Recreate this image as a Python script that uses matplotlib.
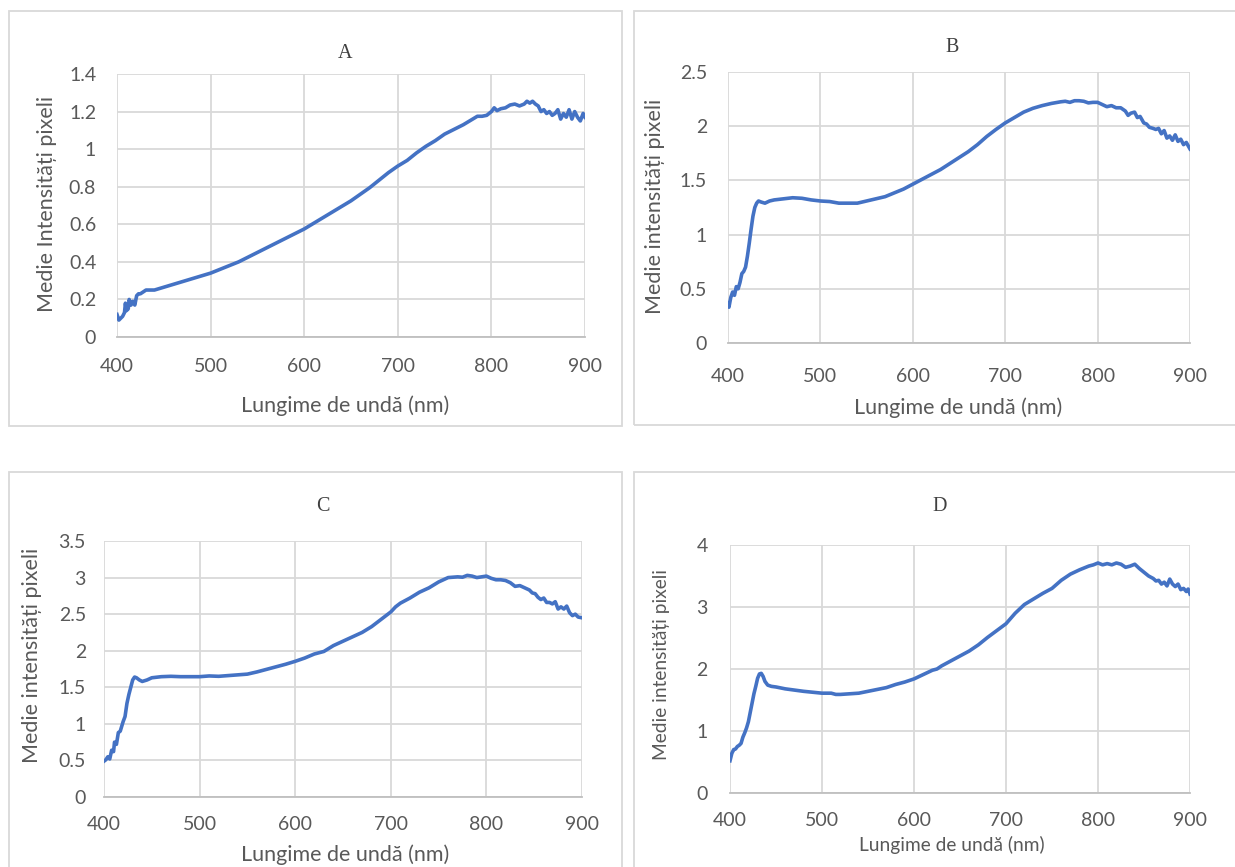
import matplotlib
matplotlib.use("Agg")
import matplotlib.pyplot as plt
from matplotlib.patches import Rectangle

plt.rcParams['font.family'] = ['Lato', 'DejaVu Sans']

# ---- date ----
wl_A = [400, 402, 404, 406, 408, 409, 410, 412, 413, 415, 417, 419, 421, 423, 425, 428, 431, 435, 440,
        450, 460, 470, 480, 490, 500, 510, 520, 530, 540, 550, 560, 570, 580, 590, 600, 610, 620, 630,
        640, 650, 660, 670, 680, 690, 700, 710, 720, 730, 740, 750, 760, 770, 780, 785, 790, 795, 800,
        803, 806, 810, 815, 820, 825, 830, 835, 838, 841, 844, 847, 850, 853, 856, 859, 862, 865, 868,
        871, 874, 877, 880, 883, 886, 889, 892, 895, 898, 900]
val_A = [0.12, 0.09, 0.10, 0.11, 0.13, 0.18, 0.14, 0.15, 0.20, 0.17, 0.19, 0.17, 0.22, 0.23, 0.23, 0.24,
         0.25, 0.25, 0.25, 0.265, 0.28, 0.295, 0.31, 0.325, 0.34, 0.36, 0.38, 0.40, 0.425, 0.45, 0.475,
         0.50, 0.525, 0.55, 0.575, 0.605, 0.635, 0.665, 0.695, 0.725, 0.76, 0.795, 0.835, 0.875, 0.91,
         0.94, 0.98, 1.015, 1.045, 1.08, 1.105, 1.13, 1.16, 1.175, 1.175, 1.18, 1.20, 1.22, 1.205, 1.215,
         1.22, 1.235, 1.24, 1.23, 1.24, 1.255, 1.245, 1.255, 1.24, 1.23, 1.20, 1.21, 1.19, 1.20, 1.18,
         1.19, 1.21, 1.16, 1.19, 1.17, 1.21, 1.16, 1.20, 1.17, 1.15, 1.19, 1.17]

wl_B = [400, 401, 403, 405, 407, 409, 411, 413, 415, 417, 419, 421, 423, 425, 427, 429, 431, 433, 436,
        440, 445, 450, 460, 470, 480, 490, 500, 510, 520, 530, 540, 550, 560, 570, 580, 590, 600, 610,
        620, 630, 640, 650, 660, 670, 680, 690, 700, 710, 720, 730, 740, 750, 760, 765, 770, 775, 780,
        785, 790, 795, 800, 805, 810, 815, 820, 825, 830, 833, 836, 840, 843, 846, 850, 853, 856, 860,
        863, 866, 869, 872, 875, 878, 881, 884, 887, 890, 893, 896, 898, 900]
val_B = [0.37, 0.33, 0.42, 0.47, 0.44, 0.52, 0.50, 0.56, 0.64, 0.66, 0.70, 0.80, 0.92, 1.05, 1.17, 1.25,
         1.29, 1.31, 1.30, 1.29, 1.31, 1.32, 1.33, 1.34, 1.335, 1.32, 1.31, 1.305, 1.29, 1.29, 1.29, 1.31,
         1.33, 1.35, 1.385, 1.42, 1.465, 1.51, 1.555, 1.60, 1.655, 1.71, 1.765, 1.83, 1.905, 1.97, 2.03,
         2.08, 2.13, 2.165, 2.19, 2.21, 2.225, 2.23, 2.22, 2.235, 2.235, 2.23, 2.215, 2.22, 2.22, 2.20,
         2.18, 2.19, 2.17, 2.17, 2.14, 2.10, 2.12, 2.13, 2.08, 2.09, 2.03, 2.02, 1.99, 1.98, 1.97, 1.98,
         1.93, 1.96, 1.89, 1.91, 1.87, 1.92, 1.86, 1.88, 1.83, 1.85, 1.82, 1.79]

wl_C = [400, 402, 404, 406, 408, 410, 411, 413, 415, 417, 420, 422, 424, 426, 428, 430, 432, 434, 437,
        440, 445, 450, 460, 470, 480, 490, 500, 510, 520, 530, 540, 550, 560, 570, 580, 590, 600, 610,
        620, 630, 640, 650, 660, 670, 680, 690, 700, 705, 710, 720, 730, 740, 750, 760, 770, 775, 780,
        785, 790, 795, 800, 805, 810, 815, 820, 825, 830, 835, 840, 845, 848, 851, 854, 857, 860, 863,
        866, 869, 872, 875, 878, 881, 884, 887, 890, 893, 896, 900]
val_C = [0.49, 0.51, 0.55, 0.52, 0.64, 0.62, 0.75, 0.72, 0.88, 0.90, 1.03, 1.10, 1.28, 1.40, 1.50, 1.60,
         1.64, 1.63, 1.60, 1.58, 1.60, 1.63, 1.645, 1.65, 1.645, 1.645, 1.645, 1.655, 1.65, 1.66, 1.67,
         1.68, 1.71, 1.745, 1.78, 1.815, 1.855, 1.90, 1.955, 1.99, 2.07, 2.13, 2.19, 2.25, 2.33, 2.43,
         2.53, 2.60, 2.65, 2.72, 2.80, 2.86, 2.94, 3.00, 3.01, 3.005, 3.03, 3.02, 3.00, 3.01, 3.02, 2.99,
         2.97, 2.97, 2.96, 2.93, 2.88, 2.89, 2.86, 2.83, 2.79, 2.78, 2.73, 2.70, 2.72, 2.66, 2.66, 2.64,
         2.67, 2.57, 2.60, 2.57, 2.61, 2.52, 2.48, 2.50, 2.46, 2.45]

wl_D = [400, 402, 404, 406, 408, 410, 412, 414, 416, 418, 420, 422, 424, 426, 428, 430, 432, 434, 436,
        438, 441, 445, 450, 460, 470, 480, 490, 500, 510, 515, 520, 530, 540, 550, 560, 570, 580, 590,
        600, 610, 620, 625, 630, 640, 650, 660, 670, 680, 690, 700, 710, 720, 730, 740, 750, 760, 770,
        780, 790, 795, 800, 805, 810, 815, 820, 825, 830, 835, 840, 845, 850, 855, 860, 863, 866, 869,
        872, 875, 878, 881, 884, 887, 890, 893, 896, 898, 900]
val_D = [0.52, 0.64, 0.70, 0.71, 0.75, 0.77, 0.80, 0.90, 0.97, 1.05, 1.15, 1.30, 1.45, 1.60, 1.72, 1.85,
         1.92, 1.93, 1.88, 1.80, 1.74, 1.72, 1.71, 1.68, 1.66, 1.64, 1.625, 1.61, 1.61, 1.59, 1.59, 1.60,
         1.61, 1.64, 1.67, 1.70, 1.75, 1.79, 1.84, 1.91, 1.98, 2.00, 2.05, 2.13, 2.21, 2.29, 2.39, 2.51,
         2.62, 2.73, 2.90, 3.04, 3.13, 3.22, 3.30, 3.43, 3.53, 3.60, 3.66, 3.68, 3.71, 3.68, 3.70, 3.68,
         3.71, 3.69, 3.64, 3.66, 3.69, 3.62, 3.56, 3.50, 3.46, 3.42, 3.43, 3.37, 3.40, 3.34, 3.45, 3.37,
         3.33, 3.37, 3.28, 3.30, 3.25, 3.29, 3.21]

x_ticks = [400, 500, 600, 700, 800, 900]
y_ticks_A = [0, 0.2, 0.4, 0.6, 0.8, 1, 1.2, 1.4]
y_labels_A = ['0', '0.2', '0.4', '0.6', '0.8', '1', '1.2', '1.4']
y_ticks_B = [0, 0.5, 1, 1.5, 2, 2.5]
y_labels_B = ['0', '0.5', '1', '1.5', '2', '2.5']
y_ticks_C = [0, 0.5, 1, 1.5, 2, 2.5, 3, 3.5]
y_labels_C = ['0', '0.5', '1', '1.5', '2', '2.5', '3', '3.5']
y_ticks_D = [0, 1, 2, 3, 4]
y_labels_D = ['0', '1', '2', '3', '4']

xlabel = 'Lungime de undă (nm)'
ylabel_A = 'Medie Intensități pixeli'
ylabel_rest = 'Medie intensități pixeli'

W, H = 1235, 867
fig = plt.figure(figsize=(W / 100, H / 100), dpi=100)

txt = '#595959'
grid = '#D9D9D9'
blue = '#4472C4'


def px(x0, y0, x1, y1):
    # pixeli -> coordonate figura (left, bottom, width, height)
    return [x0 / W, 1 - y1 / H, (x1 - x0) / W, (y1 - y0) / H]


# chenare
for (x0, y0, x1, y1) in [(9, 11, 622, 426), (634, 11, 1240, 425), (9, 472, 622, 880), (634, 472, 1240, 880)]:
    fig.patches.append(Rectangle((x0 / W, 1 - y1 / H), (x1 - x0) / W, (y1 - y0) / H,
                                 transform=fig.transFigure, fill=False, edgecolor='#D9D9D9', lw=1.3))

panels = [
    # wl, val, box px, yticks, ylabels, ymax, titlu, poz titlu, poz xlabel, poz ylabel, ylabel, marime, pad y, pad x
    (wl_A, val_A, (117, 74, 585, 337), y_ticks_A, y_labels_A, 1.4, 'A', (345, 53), (345, 406), (47, 204), ylabel_A, 15.5, 15, 15),
    (wl_B, val_B, (728, 72, 1190, 343), y_ticks_B, y_labels_B, 2.5, 'B', (952, 48), (958, 408), (655, 206), ylabel_rest, 15.5, 15, 18),
    (wl_C, val_C, (104, 541, 582, 797), y_ticks_C, y_labels_C, 3.5, 'C', (323, 507), (345, 855), (32, 655), ylabel_rest, 15.5, 13, 14),
    (wl_D, val_D, (730, 545, 1190, 793), y_ticks_D, y_labels_D, 4, 'D', (940, 507), (952, 845), (662, 665), ylabel_rest, 13.8, 16, 14),
]

for wl, val, box, yt, yl, ymax, title, tpos, xpos, ypos, ylab, lsize, ypad, xpad in panels:
    ax = fig.add_axes(px(*box))
    ax.plot(wl, val, color=blue, lw=2.6, solid_joinstyle='round', zorder=3)
    ax.set_xlim(400, 900)
    ax.set_ylim(0, ymax)
    ax.set_xticks(x_ticks)
    ax.set_yticks(yt)
    ax.set_yticklabels(yl)
    ax.grid(True, color=grid, lw=1.3)
    for s in ['top', 'right', 'left']:
        ax.spines[s].set_visible(False)
    ax.spines['bottom'].set_color('#BFBFBF')
    ax.spines['bottom'].set_linewidth(1.3)
    ax.spines['bottom'].set_zorder(2)
    ax.tick_params(axis='y', length=0, pad=ypad, labelsize=14, labelcolor=txt)
    ax.tick_params(axis='x', length=0, pad=xpad, labelsize=14, labelcolor=txt)
    ax.set_axisbelow(True)
    fig.text(tpos[0] / W, 1 - tpos[1] / H, title, family='Liberation Serif', fontsize=14.5,
             color='#404040', ha='center', va='center')
    fig.text(xpos[0] / W, 1 - xpos[1] / H, xlabel, fontsize=lsize, color=txt, ha='center', va='center')
    fig.text(ypos[0] / W, 1 - ypos[1] / H, ylab, fontsize=lsize, color=txt, ha='center', va='center',
             rotation=90)

fig.savefig('out.png', dpi=100)
